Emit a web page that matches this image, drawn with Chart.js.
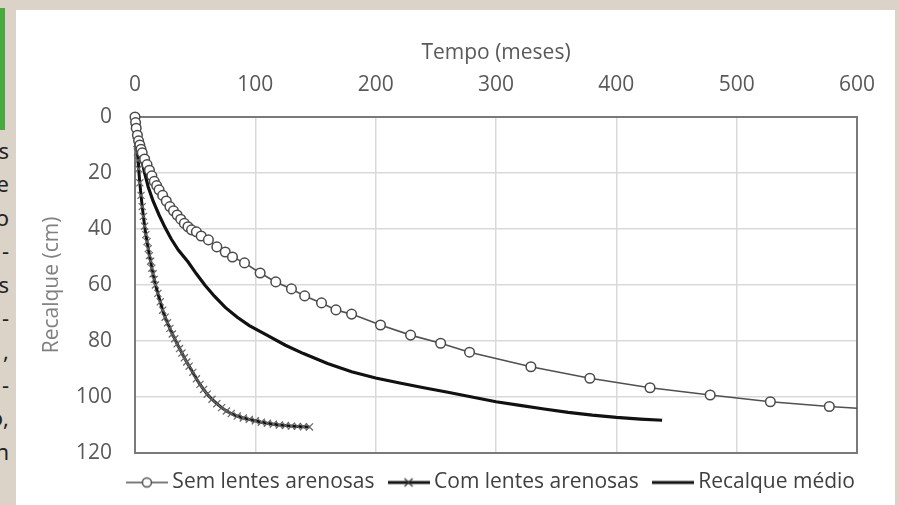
<!DOCTYPE html>
<html>
<head>
<meta charset="utf-8">
<script src="https://cdn.jsdelivr.net/npm/chart.js@4/dist/chart.umd.min.js"></script>
<style>
  html, body { margin: 0; padding: 0; }
  body { width: 899px; height: 505px; overflow: hidden; position: relative; background: #dcd3c8; font-family: "Noto Sans", sans-serif; }
  #green { position: absolute; left: 0; top: 8px; width: 5px; height: 122px; background: #45ab3c; }
  #side { position: absolute; left: 0; top: 0; width: 9px; height: 505px; overflow: hidden; }
  #side span { position: absolute; right: 0; font-size: 22px; line-height: 22px; color: #222; white-space: nowrap; }
  #panel { position: absolute; left: 16px; top: 10px; width: 879px; height: 495px; background: #fff; }
</style>
</head>
<body>
<div id="green"></div>
<div id="side"></div>
<div id="panel"><canvas id="recalqueChart"></canvas></div>
<script>
// fragments of the cropped text column on the left
const sideText = ["s", "e", "o", "-", "s", "-", ",", "-", "o,", "n"];

// Sem lentes arenosas
const semTempo = [0, 0.5, 1, 2, 3, 4, 5, 6, 8, 10, 12, 14, 16, 18, 20, 23, 26, 29, 32, 35, 38, 41, 44, 47, 51, 55, 61, 68, 75, 81, 91, 104, 117, 130, 141, 155, 167, 180, 204, 229, 254, 278, 329, 378, 428, 478, 528, 577, 627];
const semRecalque = [0, 2, 4, 6.5, 8.5, 10, 11.5, 12.8, 15, 17, 19, 21, 23, 24.5, 26, 28, 30, 32, 33.5, 35, 36.5, 38, 39.2, 40.3, 41, 42.5, 43.9, 46.4, 48.2, 50, 52.1, 55.7, 58.9, 61.4, 63.9, 66.4, 68.9, 70.4, 74.3, 77.9, 80.8, 84, 89.2, 93.3, 96.7, 99.3, 101.7, 103.4, 104.8];

// Com lentes arenosas
const comTempo = [0, 0.5, 1, 1.5, 2, 2.5, 3, 4, 5, 6, 7, 8, 9, 10, 11, 12, 13, 14, 15, 16, 17, 19, 21, 23, 25, 27, 29, 31, 33, 35, 37, 39, 41, 43, 45, 48, 51, 54, 57, 60, 64, 68, 72, 76, 80, 85, 90, 95, 100, 105, 110, 115, 120, 125, 130, 135, 140, 145];
const comRecalque = [0, 3.5, 6.5, 9.5, 12.5, 15.5, 18.5, 23.5, 28, 32, 35.5, 39, 42, 44.5, 47, 49.5, 51.5, 54, 56, 58, 60, 63, 66, 69, 71.5, 73.5, 75.5, 77.5, 79.2, 81, 82.7, 84.3, 86, 87.5, 89, 91.2, 93.5, 95.5, 97.3, 99, 100.8, 102.4, 103.8, 105, 105.9, 106.8, 107.5, 108, 108.5, 109, 109.4, 109.7, 110, 110.2, 110.4, 110.5, 110.6, 110.7];

// Recalque médio
const medioTempo = [0, 1, 2, 4, 6, 8, 11, 15, 20, 25, 30, 36, 44, 51, 58, 66, 75, 85, 95, 110, 125, 140, 160, 180, 200, 220, 240, 260, 280, 300, 320, 340, 360, 380, 400, 420, 438];
const medioRecalque = [0, 4, 7.5, 12, 16, 20, 25, 30, 35, 39.5, 43.5, 47.5, 51.7, 56, 60, 64, 68, 71.5, 74.5, 78, 81.5, 84.5, 88, 91, 93.2, 95, 96.7, 98.3, 100, 101.7, 103, 104.3, 105.5, 106.5, 107.3, 107.9, 108.3];

const seriesNames = ["Sem lentes arenosas", "Com lentes arenosas", "Recalque médio"];
const xTicks = [0, 100, 200, 300, 400, 500, 600];
const yTicks = [0, 20, 40, 60, 80, 100, 120];

const side = document.getElementById("side");
sideText.forEach((t, i) => {
    const s = document.createElement("span");
    s.textContent = t;
    s.style.top = (139 + i * 33.4) + "px";
    side.appendChild(s);
});

function pts(xs, ys) {
    return xs.map((x, i) => ({ x: x, y: ys[i] }));
}

// little pictures for the legend: line + marker
function legendIcon(kind) {
    const c = document.createElement("canvas");
    c.width = 42;
    c.height = 14;
    const g = c.getContext("2d");
    g.strokeStyle = kind === "sem" ? "#505050" : "#111";
    g.lineWidth = kind === "sem" ? 1.6 : 3.2;
    g.beginPath();
    g.moveTo(0, 7);
    g.lineTo(42, 7);
    g.stroke();
    if (kind === "sem") {
        g.fillStyle = "#fff";
        g.lineWidth = 1.5;
        g.beginPath();
        g.arc(21, 7, 4.5, 0, Math.PI * 2);
        g.fill();
        g.stroke();
    } else if (kind === "com") {
        g.lineWidth = 1.3;
        g.strokeStyle = "#333";
        g.beginPath();
        g.moveTo(17, 3); g.lineTo(25, 11);
        g.moveTo(25, 3); g.lineTo(17, 11);
        g.stroke();
    }
    return c;
}
const icons = [legendIcon("sem"), legendIcon("com"), legendIcon("medio")];

const boxPlugin = {
    id: "plotBox",
    beforeDatasetsDraw(chart) {
        const a = chart.chartArea;
        const ctx = chart.ctx;
        ctx.save();
        ctx.strokeStyle = "#7a7a7a";
        ctx.lineWidth = 2;
        ctx.strokeRect(a.left, a.top, a.right - a.left, a.bottom - a.top);
        ctx.restore();
    }
};

const ctx = document.getElementById("recalqueChart").getContext("2d");
const myChart = new Chart(ctx, {
    type: "line",
    data: {
        datasets: [
            {
                label: seriesNames[0],
                data: pts(semTempo, semRecalque),
                borderColor: "#505050",
                borderWidth: 1.6,
                pointStyle: "circle",
                pointRadius: 4.8,
                pointBorderWidth: 1.5,
                pointBackgroundColor: "#fff",
                pointBorderColor: "#4a4a4a",
                clip: { left: 6, top: 6, right: 0, bottom: 0 },
            },
            {
                label: seriesNames[1],
                data: pts(comTempo, comRecalque),
                borderColor: "#111",
                borderWidth: 3,
                pointStyle: "crossRot",
                pointRadius: 5,
                pointBorderWidth: 1.2,
                pointBorderColor: "#666",
                clip: { left: 6, top: 6, right: 0, bottom: 0 },
            },
            {
                label: seriesNames[2],
                data: pts(medioTempo, medioRecalque),
                borderColor: "#111",
                borderWidth: 3.2,
                pointRadius: 0,
                clip: { left: 6, top: 6, right: 0, bottom: 0 },
            },
        ],
    },
    options: {
        responsive: true,
        maintainAspectRatio: false,
        animation: false,
        layout: { padding: { left: 0, right: 21, top: 0, bottom: 2 } },
        elements: { line: { tension: 0 } },
        scales: {
            x: {
                type: "linear",
                position: "top",
                min: 0,
                max: 600,
                afterBuildTicks: (s) => { s.ticks = xTicks.map((v) => ({ value: v })); },
                afterFit: (s) => { s.height = 107; s.paddingRight = 38; },
                grid: { color: "#d9d9d9", lineWidth: 1.5, drawTicks: false },
                border: { display: false },
                ticks: { color: "#595959", font: { family: "Open Sans", size: 21 }, padding: 19 },
                title: {
                    display: true,
                    text: "Tempo (meses)",
                    color: "#595959",
                    font: { family: "Open Sans", size: 21 },
                    padding: { top: 30, bottom: 0 },
                },
            },
            y: {
                type: "linear",
                reverse: true,
                min: 0,
                max: 120,
                afterBuildTicks: (s) => { s.ticks = yTicks.map((v) => ({ value: v })); },
                afterFit: (s) => { s.width = 119; },
                grid: { color: "#d9d9d9", lineWidth: 1.5, drawTicks: false },
                border: { display: false },
                ticks: { color: "#595959", font: { family: "Open Sans", size: 21 }, padding: 23 },
                title: {
                    display: true,
                    text: "Recalque (cm)",
                    color: "#808080",
                    font: { family: "Open Sans", size: 21 },
                    padding: { top: 23, bottom: 0 },
                },
            },
        },
        plugins: {
            tooltip: { enabled: false },
            legend: {
                position: "bottom",
                align: "end",
                labels: {
                    usePointStyle: true,
                    pointStyleWidth: 30,
                    padding: 19,
                    color: "#404040",
                    font: { family: "Open Sans", size: 21 },
                    generateLabels: (chart) => {
                        const items = Chart.defaults.plugins.legend.labels.generateLabels(chart);
                        return items.map((it, i) => Object.assign(it, { pointStyle: icons[i] }));
                    },
                },
            },
        },
    },
    plugins: [boxPlugin],
});
</script>
</body>
</html>
